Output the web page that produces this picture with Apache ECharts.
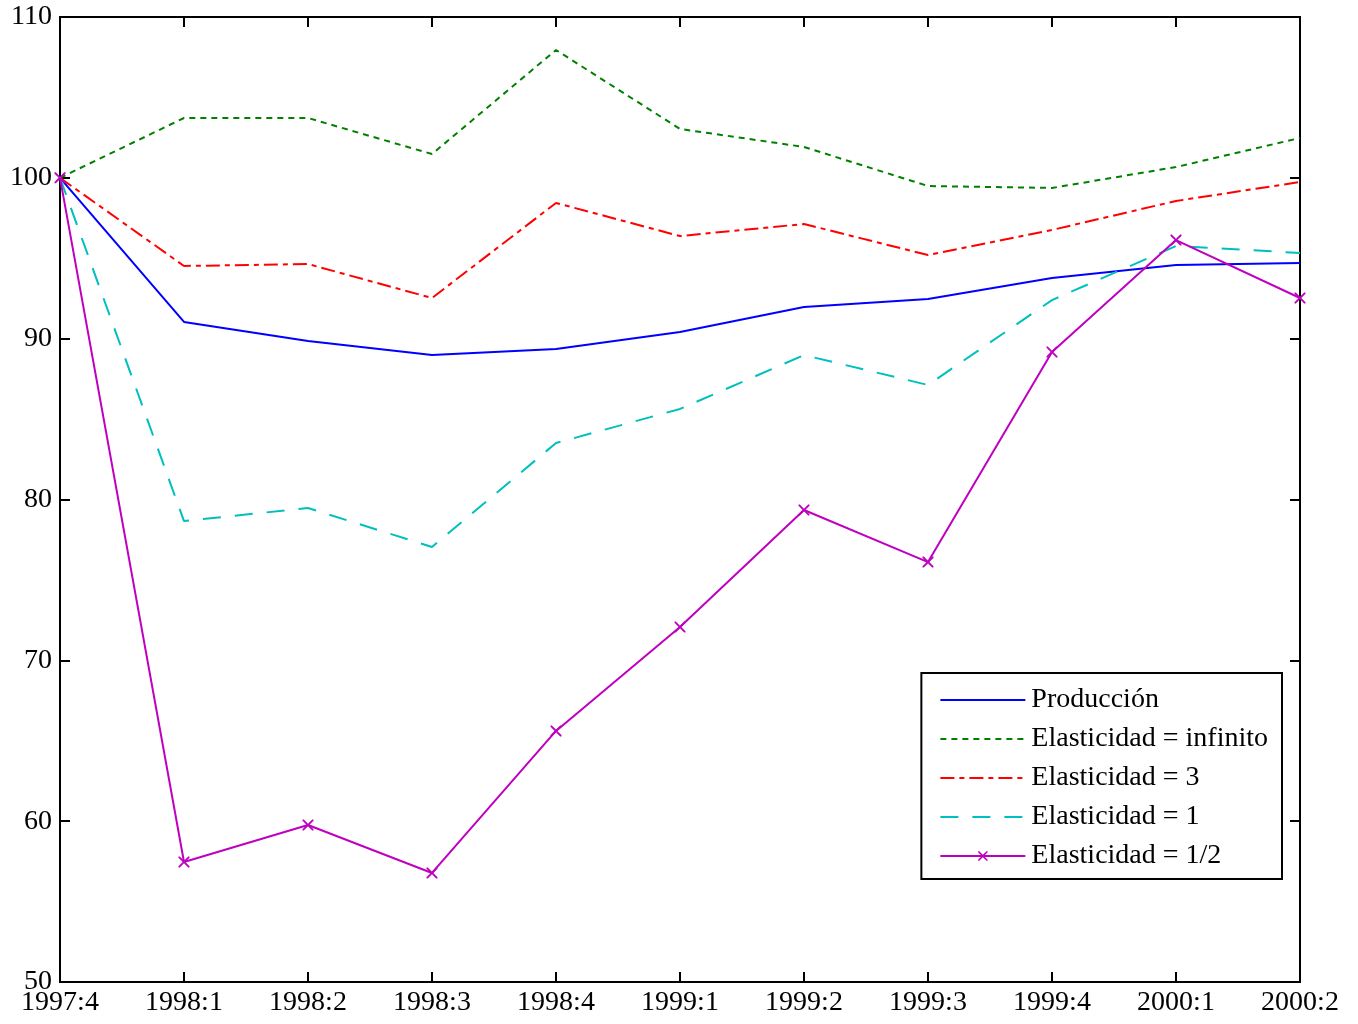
<!DOCTYPE html>
<html><head><meta charset="utf-8">
<script src="https://cdn.jsdelivr.net/npm/echarts@6/dist/echarts.min.js"></script>
<style>html,body{margin:0;padding:0;background:#fff}#c{width:1358px;height:1024px}</style>
</head><body><div id="c"></div>
<script>
const categories = ['1997:4','1998:1','1998:2','1998:3','1998:4','1999:1','1999:2','1999:3','1999:4','2000:1','2000:2'];
const produccion = [100, 91.04, 89.85, 88.98, 89.36, 90.41, 91.97, 92.47, 93.77, 94.58, 94.70];
const elastInf   = [100, 103.72, 103.72, 101.48, 107.95, 103.04, 101.92, 99.49, 99.37, 100.67, 102.48];
const elast3     = [100, 94.52, 94.64, 92.53, 98.44, 96.38, 97.13, 95.20, 96.76, 98.56, 99.74];
const elast1     = [100, 78.66, 79.47, 77.05, 83.51, 85.63, 88.98, 87.12, 92.40, 95.76, 95.33];
const elastHalf  = [100, 57.46, 59.76, 56.78, 65.61, 72.07, 79.35, 76.11, 89.17, 96.13, 92.53];
const seriesNames = ['Producción','Elasticidad = infinito','Elasticidad = 3','Elasticidad = 1','Elasticidad = 1/2'];

const font = 'Liberation Serif';
const crossPath = 'path://M0,0L1.2,0L5,3.8L8.8,0L10,0L10,1.2L6.2,5L10,8.8L10,10L8.8,10L5,6.2L1.2,10L0,10L0,8.8L3.8,5L0,1.2Z';
const chart = echarts.init(document.getElementById('c'));
const axisLine = {show:true, lineStyle:{color:'#000', width:2}};
const tick = {show:true, inside:true, length:10, lineStyle:{color:'#000', width:2}};
function line(name, data, color, type, extra){
  return Object.assign({
    name, type:'line', data, xAxisIndex:0, yAxisIndex:0,
    symbol:'none', animation:false,
    lineStyle:{color, width:2, type},
    itemStyle:{color}
  }, extra||{});
}
chart.setOption({
  backgroundColor:'#fff',
  animation:false,
  grid:{left:60, right:58, top:17, bottom:42, show:true, borderColor:'#000', borderWidth:2},
  legend:{
    orient:'vertical', right:76, top:673,
    backgroundColor:'#fff', borderColor:'#000', borderWidth:2,
    padding:[13,14,9,18], itemGap:11, itemWidth:85, itemHeight:12,
    textStyle:{fontFamily:font, fontSize:28, color:'#000', padding:[0,0,0,1]},
    data: [
      {name:seriesNames[0], itemStyle:{opacity:0}},
      {name:seriesNames[1], itemStyle:{opacity:0}},
      {name:seriesNames[2], itemStyle:{opacity:0}},
      {name:seriesNames[3], itemStyle:{opacity:0}},
      {name:seriesNames[4]}
    ]
  },
  xAxis:[
    {type:'category', data:categories, boundaryGap:false, position:'bottom',
     axisLine, axisTick:Object.assign({alignWithLabel:true}, tick),
     axisLabel:{fontFamily:font, fontSize:28, color:'#000', margin:7, interval:0},
     splitLine:{show:false}},
    {type:'category', data:categories, boundaryGap:false, position:'top',
     axisLine, axisTick:tick, axisLabel:{show:false}, splitLine:{show:false}}
  ],
  yAxis:[
    {type:'value', min:50, max:110, interval:10, position:'left',
     axisLine, axisTick:tick,
     axisLabel:{fontFamily:font, fontSize:28, color:'#000', margin:8},
     splitLine:{show:false}},
    {type:'value', min:50, max:110, interval:10, position:'right',
     axisLine, axisTick:tick, axisLabel:{show:false}, splitLine:{show:false}}
  ],
  series:[
    line(seriesNames[0], produccion, '#0000ff', 'solid'),
    line(seriesNames[1], elastInf, '#008000', [6,5]),
    line(seriesNames[2], elast3, '#ff0000', [14,5,5,5]),
    line(seriesNames[3], elast1, '#00bfbf', [18,14]),
    line(seriesNames[4], elastHalf, '#bf00bf', 'solid', {symbol:crossPath, symbolSize:11, showSymbol:true})
  ]
});
</script></body></html>
